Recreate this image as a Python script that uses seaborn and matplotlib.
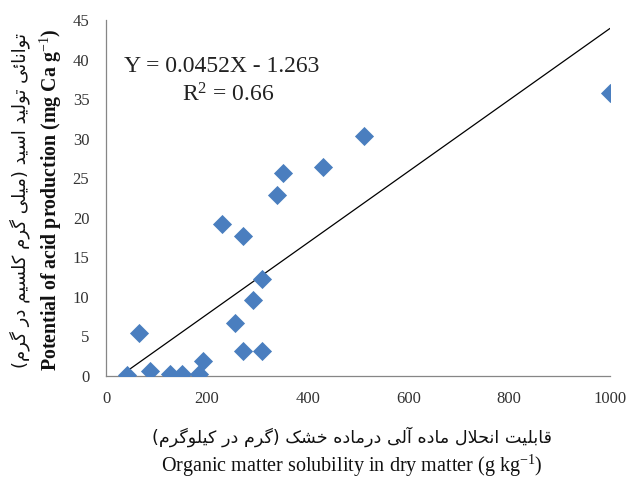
import numpy as np
import pandas as pd
import matplotlib
matplotlib.use("Agg")
import matplotlib.pyplot as plt
import seaborn as sns

# ---------------- data ----------------
om_solubility = [41, 66, 87, 126, 150, 185, 192, 231, 272, 255, 272, 292, 309, 309, 339, 352, 431, 511, 1000]
acid_potential = [0.1, 5.4, 0.6, 0.3, 0.3, 0.3, 1.9, 19.2, 17.7, 6.7, 3.1, 9.6, 12.2, 3.2, 22.9, 25.6, 26.4, 30.3, 35.8]
fit_slope = 0.0452
fit_intercept = -1.263
x_ticks = [0, 200, 400, 600, 800, 1000]
y_ticks = [0, 5, 10, 15, 20, 25, 30, 35, 40, 45]

eq_text = "Y = 0.0452X - 1.263"
r2_text = "R$^{2}$ = 0.66"
xlabel_fa = "قابلیت انحلال ماده آلی درماده خشک (گرم در کیلوگرم)"
xlabel_en = "Organic matter solubility in dry matter (g kg$^{-1}$)"
ylabel_fa = "توانائی تولید اسید (میلی گرم کلسیم در گرم)"
ylabel_en = "Potential of acid production (mg Ca g$^{-1}$)"


# ---------------- minimal Persian shaping (matplotlib has no CTL) ----------------
DUAL = {
    'ب': (0xFE8F, 0xFE90, 0xFE91, 0xFE92), 'ت': (0xFE95, 0xFE96, 0xFE97, 0xFE98),
    'ح': (0xFEA1, 0xFEA2, 0xFEA3, 0xFEA4), 'خ': (0xFEA5, 0xFEA6, 0xFEA7, 0xFEA8),
    'س': (0xFEB1, 0xFEB2, 0xFEB3, 0xFEB4), 'ش': (0xFEB5, 0xFEB6, 0xFEB7, 0xFEB8),
    'ق': (0xFED5, 0xFED6, 0xFED7, 0xFED8), 'ل': (0xFEDD, 0xFEDE, 0xFEDF, 0xFEE0),
    'م': (0xFEE1, 0xFEE2, 0xFEE3, 0xFEE4), 'ن': (0xFEE5, 0xFEE6, 0xFEE7, 0xFEE8),
    'ه': (0xFEE9, 0xFEEA, 0xFEEB, 0xFEEC), 'ئ': (0xFE89, 0xFE8A, 0xFE8B, 0xFE8C),
    'ک': (0xFB8E, 0xFB8F, 0xFB90, 0xFB91), 'گ': (0xFB92, 0xFB93, 0xFB94, 0xFB95),
    'ی': (0xFBFC, 0xFBFD, 0xFBFE, 0xFBFF),
}
RIGHT = {
    'ا': (0xFE8D, 0xFE8E), 'آ': (0xFE81, 0xFE82), 'د': (0xFEA9, 0xFEAA),
    'ر': (0xFEAD, 0xFEAE), 'و': (0xFEED, 0xFEEE),
    'LA': (0xFEFB, 0xFEFC), 'LAA': (0xFEF5, 0xFEF6),
}


def shape_fa(text):
    toks = []
    i = 0
    while i < len(text):
        c = text[i]
        if c == 'ل' and i + 1 < len(text) and text[i + 1] in ('ا', 'آ'):
            toks.append('LA' if text[i + 1] == 'ا' else 'LAA')
            i += 2
            continue
        toks.append(c)
        i += 1
    out = []
    for k, t in enumerate(toks):
        prev = toks[k - 1] if k > 0 else None
        nxt = toks[k + 1] if k + 1 < len(toks) else None
        cp = prev in DUAL and (t in DUAL or t in RIGHT)
        cn = t in DUAL and (nxt in DUAL or nxt in RIGHT)
        if t in DUAL:
            iso, fin, ini, med = DUAL[t]
            code = med if (cp and cn) else fin if cp else ini if cn else iso
            out.append(chr(code))
        elif t in RIGHT:
            iso, fin = RIGHT[t]
            out.append(chr(fin if cp else iso))
        else:
            out.append(t)
    vis = ''.join(reversed(out))
    return vis.translate(str.maketrans('()', ')('))


# ---------------- plot ----------------
sns.set_theme(style="white")
plt.rcParams['font.family'] = ['Liberation Serif', 'DejaVu Sans']
plt.rcParams['mathtext.fontset'] = 'custom'
plt.rcParams['mathtext.rm'] = 'Liberation Serif'
plt.rcParams['mathtext.it'] = 'Liberation Serif:italic'
plt.rcParams['mathtext.bf'] = 'Liberation Serif:bold'

W, H = 630, 479
fig = plt.figure(figsize=(W / 100, H / 100), dpi=100)
ax = fig.add_axes([106 / W, 1 - 376 / H, 504 / W, 356 / H])

df = pd.DataFrame({"x": om_solubility, "y": acid_potential})
sns.scatterplot(data=df, x="x", y="y", ax=ax, marker="D", s=95,
                color="#4A7EBF", edgecolor="#4A7EBF", linewidth=0, zorder=3)

xs = np.array([min(om_solubility), max(om_solubility)], dtype=float)
fit_df = pd.DataFrame({"x": xs, "y": fit_slope * xs + fit_intercept})
sns.lineplot(data=fit_df, x="x", y="y", ax=ax, color="black", linewidth=0.9, zorder=2)

ax.set_xlim(0, 1000)
ax.set_ylim(0, 45)
ax.set_xticks(x_ticks)
ax.set_yticks(y_ticks)
ax.set_xlabel("")
ax.set_ylabel("")
for side in ("top", "right"):
    ax.spines[side].set_visible(False)
for side in ("left", "bottom"):
    ax.spines[side].set_color("#868686")
    ax.spines[side].set_linewidth(0.9)
ax.tick_params(axis="both", direction="out", length=5, width=0.9, color="#868686",
               labelsize=12, labelcolor="#333333")
ax.tick_params(axis="y", pad=7)
ax.tick_params(axis="x", pad=6)

# equation annotation
fig.text(222 / W, 1 - 66 / H, eq_text, ha="center", va="center", fontsize=17, color="#222222")
fig.text(228 / W, 1 - 95 / H, r2_text, ha="center", va="center", fontsize=17, color="#222222")

# axis titles
fig.text(352 / W, 1 - 437 / H, shape_fa(xlabel_fa), ha="center", va="center",
         fontsize=12.6, color="#111111", family=['DejaVu Sans'])
fig.text(352 / W, 1 - 466 / H, xlabel_en, ha="center", va="center",
         fontsize=14.5, color="#111111")
fig.text(20 / W, 1 - 200 / H, shape_fa(ylabel_fa), ha="center", va="center", rotation=90,
         fontsize=13, color="#111111", family=['DejaVu Sans'])
fig.text(51 / W, 1 - 200 / H, ylabel_en, ha="center", va="center", rotation=90,
         fontsize=14.3, fontweight="bold", color="#111111")

fig.savefig("out.png", dpi=100)
